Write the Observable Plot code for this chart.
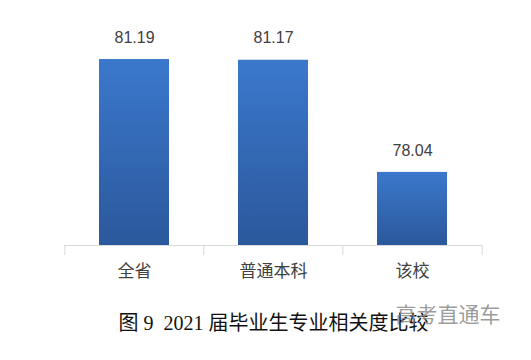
<!DOCTYPE html>
<html>
<head>
<meta charset="utf-8">
<script src="https://cdn.jsdelivr.net/npm/d3@7"></script>
<script src="https://cdn.jsdelivr.net/npm/@observablehq/plot@0.6"></script>
<style>
  html, body { margin: 0; padding: 0; background: #fff; }
</style>
</head>
<body>
<div id="chart"></div>
<script>
const categories = ["全省", "普通本科", "该校"];
const values = [81.19, 81.17, 78.04];
const valueLabels = ["81.19", "81.17", "78.04"];
const caption = "图 9  2021 届毕业生专业相关度比较";
const watermark = "高考直通车";

const data = categories.map((c, i) => ({cat: c, value: values[i], label: valueLabels[i]}));
const yBase = 76;
const halfStep = 69.67;

const plot = Plot.plot({
  width: 531,
  height: 360,
  marginLeft: 64,
  marginRight: 49,
  marginTop: 30,
  marginBottom: 115,
  style: {background: "#fff", fontFamily: "'Liberation Sans', Arial, 'Noto Sans CJK SC', sans-serif"},
  x: {domain: categories, paddingInner: 0.5, paddingOuter: 0.25, label: null},
  y: {domain: [yBase, 82], axis: null},
  marks: [
    Plot.barY(data, {x: "cat", y1: yBase, y2: "value", fill: "url(#barGrad)"}),
    Plot.ruleY([yBase], {stroke: "#d9d9d9", strokeWidth: 1}),
    Plot.ruleX(categories, {x: d => d, y1: yBase, y2: yBase - 0.28, dx: -halfStep, stroke: "#d9d9d9"}),
    Plot.ruleX([categories[categories.length - 1]], {x: d => d, y1: yBase, y2: yBase - 0.28, dx: halfStep, stroke: "#d9d9d9"}),
    Plot.text(data, {x: "cat", y: "value", text: "label", dy: -22, fontSize: 16, fill: "#404040"}),
    Plot.axisX({tickSize: 0, tickPadding: 19, fontSize: 17, color: "#404040", label: null,
      fontFamily: "'Noto Sans CJK SC', sans-serif"}),
    Plot.text([caption], {frameAnchor: "bottom", dy: 84, fontSize: 20, fill: "#111",
      fontFamily: "'Liberation Serif', 'Noto Sans CJK SC', serif"}),
    Plot.text([watermark], {frameAnchor: "bottom-right", textAnchor: "end", dx: 18, dy: 76, fontSize: 21,
      fill: "#8a8a8a", fillOpacity: 0.85, fontFamily: "'Noto Sans CJK SC', sans-serif"})
  ]
});

const svg = d3.select(plot);
const defs = svg.insert("defs", ":first-child");
const grad = defs.append("linearGradient").attr("id", "barGrad")
  .attr("x1", 0).attr("y1", 0).attr("x2", 0).attr("y2", 1);
grad.append("stop").attr("offset", "0%").attr("stop-color", "#3b78cc");
grad.append("stop").attr("offset", "100%").attr("stop-color", "#2b589c");

document.getElementById("chart").appendChild(plot);
</script>
</body>
</html>
